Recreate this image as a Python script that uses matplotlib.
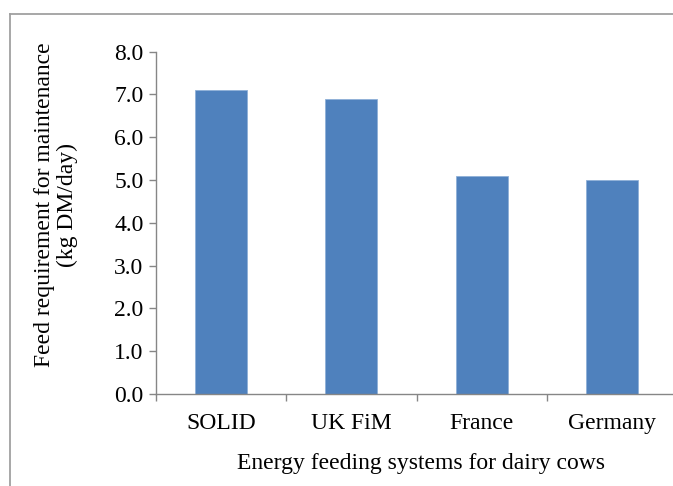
import matplotlib
matplotlib.use("Agg")
import matplotlib.pyplot as plt
import numpy as np
from matplotlib.lines import Line2D

categories = ["SOLID", "UK FiM", "France", "Germany"]
values = [7.1, 6.9, 5.1, 5.0]
yticks = [0.0, 1.0, 2.0, 3.0, 4.0, 5.0, 6.0, 7.0, 8.0]

plt.rcParams['font.family'] = ['Liberation Serif', 'DejaVu Serif']

W, H = 673, 486
fig = plt.figure(figsize=(W/100, H/100), dpi=100)
fig.patch.set_facecolor('white')

# outer border (top and left visible)
bx, by = 9.5/W, 1 - 14/H
fig.add_artist(Line2D([bx, 1.05], [by, by], transform=fig.transFigure, color='#a0a0a0', linewidth=1.3))
fig.add_artist(Line2D([bx, bx], [-0.05, by], transform=fig.transFigure, color='#a0a0a0', linewidth=1.3))

left, right = 156/W, 677/W
bottom, top = 1 - 394/H, 1 - 51.5/H
ax = fig.add_axes([left, bottom, right - left, top - bottom])
ax.patch.set_visible(False)

x = np.arange(len(categories))
ax.bar(x, values, width=0.4, color='#4F81BD', edgecolor='#8fb0d8', linewidth=0.6, zorder=2)

fs = 17
ax.set_xlim(-0.5, len(categories) - 0.5)
ax.set_ylim(0, 8)
ax.set_yticks(yticks)
ax.set_yticklabels([f"{v:.1f}" for v in yticks], fontsize=fs)
ax.set_xticks(x)
ax.set_xticklabels(categories, fontsize=fs)
ax.set_xticks(np.arange(len(categories) + 1) - 0.5, minor=True)
ax.tick_params(axis='x', which='major', length=0, pad=14)
ax.tick_params(axis='x', which='minor', length=5, color='#868686', width=1)
ax.tick_params(axis='y', length=5, color='#868686', width=1, pad=4)

for s in ['top', 'right']:
    ax.spines[s].set_visible(False)
for s in ['left', 'bottom']:
    ax.spines[s].set_color('#868686')
    ax.spines[s].set_linewidth(1)

fig.text(421/W, 1 - 463/H, "Energy feeding systems for dairy cows", ha='center', va='center', fontsize=fs)
fig.text(56/W, 1 - 205/H, "Feed requirement for maintenance\n(kg DM/day)", ha='center', va='center',
         rotation=90, fontsize=fs, linespacing=1.15)

fig.savefig("out.png", dpi=100, facecolor='white')
